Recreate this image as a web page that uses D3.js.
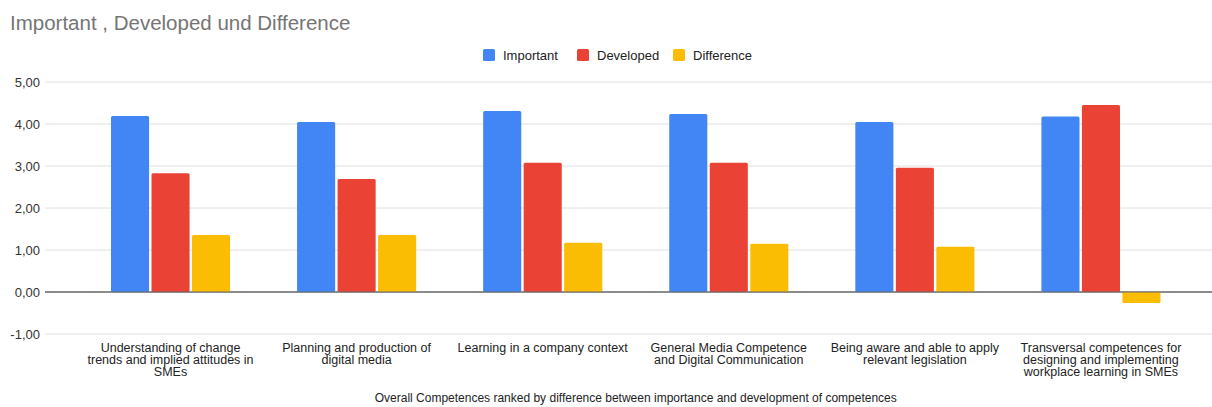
<!DOCTYPE html>
<html>
<head>
<meta charset="utf-8">
<script src="https://cdn.jsdelivr.net/npm/d3@7"></script>
<style>
  body { margin: 0; background: #fff; }
  text { font-family: Arial, "Liberation Sans", sans-serif; }
</style>
</head>
<body>
<script>
// chart data
const categories = [
  "Understanding of change trends and implied attitudes in SMEs",
  "Planning and production of digital media",
  "Learning in a company context",
  "General Media Competence and Digital Communication",
  "Being aware and able to apply relevant legislation",
  "Transversal competences for designing and implementing workplace learning in SMEs"
];
const tickLabels = [
  ["Understanding of change", "trends and implied attitudes in", "SMEs"],
  ["Planning and production of", "digital media"],
  ["Learning in a company context"],
  ["General Media Competence", "and Digital Communication"],
  ["Being aware and able to apply", "relevant legislation"],
  ["Transversal competences for", "designing and implementing", "workplace learning in SMEs"]
];
const seriesNames = ["Important", "Developed", "Difference"];
const important = [4.19, 4.05, 4.31, 4.24, 4.05, 4.18];
const developed = [2.83, 2.69, 3.08, 3.08, 2.96, 4.45];
const difference = [1.36, 1.36, 1.17, 1.15, 1.08, -0.26];
const yTicks = [-1, 0, 1, 2, 3, 4, 5];
const colors = ["#4285F4", "#EA4335", "#FBBC04"];

const W = 1212, H = 407;
let svg, x, xInner, y;

setupSvg();
setupScales();
drawTitle();
drawLegend();
drawGrid();
drawBars();
drawXLabels();

function setupSvg() {
  svg = d3.select("body").append("svg")
    .attr("width", W)
    .attr("height", H);
}

function setupScales() {
  x = d3.scaleBand()
    .domain(categories)
    .range([77.5, 1194])
    .paddingInner(0.36)
    .paddingOuter(0.18);

  xInner = d3.scaleBand()
    .domain(seriesNames)
    .range([0, x.bandwidth()])
    .paddingInner(0.06);

  y = d3.scaleLinear()
    .domain([-1, 5])
    .range([334, 82]);
}

function drawTitle() {
  svg.append("text")
    .attr("x", 10)
    .attr("y", 30)
    .attr("font-size", 20.5)
    .attr("fill", "#757575")
    .text("Important , Developed und Difference");
}

function drawLegend() {
  const xs = [483, 577, 673];
  const g = svg.append("g");
  seriesNames.forEach((name, i) => {
    g.append("rect")
      .attr("x", xs[i]).attr("y", 49)
      .attr("width", 12).attr("height", 12)
      .attr("rx", 1.5)
      .attr("fill", colors[i]);
    g.append("text")
      .attr("x", xs[i] + 20).attr("y", 59.5)
      .attr("font-size", 13)
      .attr("fill", "#222")
      .text(name);
  });
}

function drawGrid() {
  const g = svg.append("g");
  g.selectAll("line")
    .data(yTicks)
    .join("line")
      .attr("x1", 45).attr("x2", W)
      .attr("y1", d => y(d)).attr("y2", d => y(d))
      .attr("stroke", d => d === 0 ? "#666" : "#e0e0e0")
      .attr("stroke-width", d => d === 0 ? 1.2 : 1);

  g.selectAll("text")
    .data(yTicks)
    .join("text")
      .attr("x", 40)
      .attr("y", d => y(d) + 4.5)
      .attr("text-anchor", "end")
      .attr("font-size", 13)
      .attr("fill", "#333")
      .text(d => d3.format(".2f")(d).replace(".", ",").replace("\u2212", "-"));
}

function drawBars() {
  const series = [important, developed, difference];
  const groups = svg.append("g")
    .selectAll("g")
    .data(categories)
    .join("g")
      .attr("transform", d => `translate(${x(d)},0)`);

  groups.selectAll("rect")
    .data((d, ci) => seriesNames.map((s, si) => ({ s, si, v: series[si][ci] })))
    .join("rect")
      .attr("x", d => xInner(d.s))
      .attr("width", xInner.bandwidth())
      .attr("y", d => y(Math.max(0, d.v)))
      .attr("height", d => Math.abs(y(d.v) - y(0)))
      .attr("rx", 1.5)
      .attr("fill", d => colors[d.si]);

  // redraw the zero line above the bars
  svg.append("line")
    .attr("x1", 45).attr("x2", W)
    .attr("y1", y(0)).attr("y2", y(0))
    .attr("stroke", "#666")
    .attr("stroke-width", 1.2);
}

function drawXLabels() {
  const g = svg.append("g");
  categories.forEach((c, i) => {
    const t = g.append("text")
      .attr("x", x(c) + x.bandwidth() / 2)
      .attr("y", 352)
      .attr("text-anchor", "middle")
      .attr("font-size", 12.5)
      .attr("fill", "#222");
    tickLabels[i].forEach((line, j) => {
      t.append("tspan")
        .attr("x", x(c) + x.bandwidth() / 2)
        .attr("dy", j === 0 ? 0 : 12)
        .text(line);
    });
  });

  svg.append("text")
    .attr("x", (77.5 + 1194) / 2)
    .attr("y", 402)
    .attr("text-anchor", "middle")
    .attr("font-size", 12)
    .attr("fill", "#222")
    .text("Overall Competences ranked by difference between importance and development of competences");
}
</script>
</body>
</html>
